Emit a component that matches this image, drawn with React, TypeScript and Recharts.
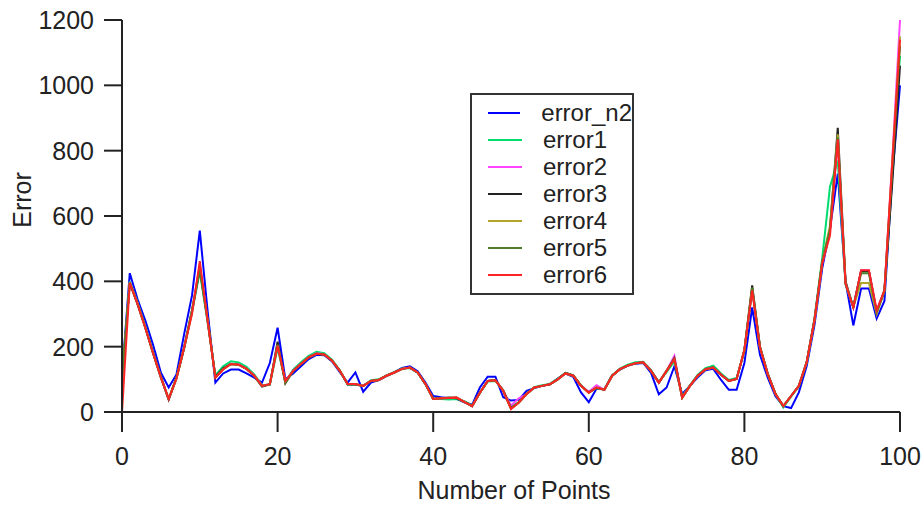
import { Label, Legend, Line, LineChart, XAxis, YAxis } from 'recharts';

const FONT = '"Liberation Sans", Arial, sans-serif';

// x positions: number of points 0..100
const xPoints = Array.from({ length: 101 }, (_, i) => i);

const xTicks = [0, 20, 40, 60, 80, 100];
const yTicks = [0, 200, 400, 600, 800, 1000, 1200];

// values, 10 per row (index 0..100)
const errorN2 = [
  110, 425, 345, 280, 205, 120, 75, 115, 240, 357,
  555, 310, 90, 118, 130, 130, 118, 105, 90, 150,
  258, 100, 118, 140, 162, 175, 174, 155, 122, 90,
  121, 62, 90, 98, 110, 122, 135, 140, 125, 90,
  49, 45, 42, 40, 30, 22, 75, 108, 108, 45,
  35, 37, 65, 73, 80, 85, 102, 118, 108, 60,
  30, 72, 70, 112, 130, 142, 148, 150, 120, 54,
  75, 140, 55, 80, 106, 128, 132, 98, 68, 68,
  150, 320, 175, 105, 48, 18, 12, 60, 140, 265,
  440, 560, 730, 400, 265, 378, 378, 286, 340, 720,
  1000,
];

const error1 = [
  100, 400, 335, 262, 183, 108, 38, 103, 195, 305,
  430, 275, 112, 140, 155, 152, 138, 115, 82, 84,
  195, 92, 130, 152, 172, 184, 180, 160, 128, 84,
  84, 80, 97, 100, 112, 122, 133, 135, 120, 84,
  42, 40, 38, 40, 33, 20, 58, 93, 95, 66,
  15, 30, 56, 76, 82, 86, 102, 120, 112, 82,
  60, 73, 70, 113, 133, 145, 152, 154, 128, 92,
  122, 155, 48, 82, 114, 134, 142, 118, 98, 104,
  185, 375, 200, 118, 55, 14, 47, 78, 150, 285,
  470, 690, 770, 390, 322, 430, 430, 305, 368, 730,
  1090,
];

const error2 = [
  100, 398, 332, 258, 180, 106, 38, 105, 198, 312,
  450, 282, 106, 132, 148, 146, 133, 112, 80, 86,
  208, 92, 127, 148, 168, 180, 177, 157, 126, 86,
  86, 80, 95, 98, 111, 121, 132, 136, 121, 86,
  40, 42, 43, 44, 31, 18, 59, 95, 97, 65,
  20, 42, 55, 75, 80, 85, 100, 118, 111, 80,
  62, 82, 68, 111, 131, 142, 149, 152, 126, 90,
  126, 172, 44, 80, 111, 131, 136, 114, 95, 101,
  190, 375, 198, 116, 55, 18, 49, 80, 152, 280,
  455, 555, 830, 393, 320, 434, 434, 311, 372, 770,
  1200,
];

const error3 = [
  100, 395, 330, 258, 180, 106, 38, 104, 198, 310,
  440, 285, 108, 134, 147, 145, 132, 110, 78, 84,
  215, 88, 126, 147, 167, 178, 176, 157, 126, 84,
  84, 80, 95, 98, 111, 121, 132, 136, 121, 86,
  40, 42, 44, 42, 31, 18, 59, 95, 98, 66,
  12, 29, 55, 75, 80, 85, 100, 120, 112, 80,
  60, 74, 68, 111, 131, 142, 149, 152, 126, 90,
  126, 165, 44, 80, 111, 131, 137, 114, 95, 101,
  190, 388, 200, 117, 55, 18, 49, 80, 152, 282,
  460, 560, 870, 400, 320, 432, 432, 305, 372, 700,
  1060,
];

const error4 = [
  100, 397, 332, 258, 180, 106, 40, 105, 198, 311,
  445, 282, 106, 131, 147, 145, 132, 111, 80, 85,
  205, 90, 126, 147, 167, 178, 176, 157, 126, 86,
  86, 80, 95, 98, 111, 121, 132, 136, 121, 86,
  40, 42, 43, 44, 31, 18, 59, 95, 97, 65,
  10, 29, 55, 75, 80, 85, 100, 118, 111, 80,
  59, 75, 68, 111, 131, 142, 149, 152, 126, 90,
  126, 162, 44, 80, 111, 131, 136, 114, 95, 101,
  190, 380, 200, 116, 55, 18, 49, 80, 152, 280,
  458, 570, 850, 395, 322, 395, 395, 300, 372, 760,
  1150,
];

const error5 = [
  100, 396, 331, 258, 180, 106, 40, 105, 198, 311,
  435, 280, 106, 131, 147, 145, 132, 111, 80, 85,
  205, 90, 126, 147, 167, 178, 176, 157, 126, 86,
  86, 80, 95, 98, 111, 121, 132, 136, 121, 86,
  40, 42, 43, 44, 31, 18, 59, 95, 97, 65,
  10, 29, 55, 75, 80, 85, 100, 118, 111, 80,
  59, 75, 68, 111, 131, 142, 149, 152, 126, 90,
  126, 162, 44, 80, 111, 131, 136, 114, 95, 101,
  190, 380, 198, 116, 55, 18, 49, 80, 152, 280,
  455, 560, 840, 393, 320, 425, 425, 305, 372, 740,
  1120,
];

const error6 = [
  0, 395, 330, 258, 180, 106, 40, 102, 198, 300,
  462, 280, 105, 130, 147, 145, 132, 111, 80, 85,
  203, 95, 126, 147, 167, 178, 176, 157, 126, 86,
  86, 80, 95, 98, 111, 121, 132, 136, 121, 86,
  40, 42, 43, 44, 31, 18, 59, 95, 97, 65,
  9, 29, 55, 75, 80, 85, 100, 118, 111, 80,
  59, 75, 68, 111, 131, 142, 149, 152, 126, 90,
  126, 162, 44, 80, 111, 131, 136, 114, 95, 101,
  190, 372, 198, 116, 55, 18, 49, 80, 152, 280,
  455, 540, 835, 393, 320, 434, 434, 311, 372, 760,
  1140,
];

const series = [
  { key: 'error_n2', values: errorN2, color: '#0000ff' },
  { key: 'error1', values: error1, color: '#00dd6e' },
  { key: 'error2', values: error2, color: '#ff44ff' },
  { key: 'error3', values: error3, color: '#222222' },
  { key: 'error4', values: error4, color: '#b3a52c' },
  { key: 'error5', values: error5, color: '#4d7c2b' },
  { key: 'error6', values: error6, color: '#ff2424' },
];

const data = xPoints.map((x, i) => {
  const row: Record<string, number> = { x };
  series.forEach(s => {
    row[s.key] = s.values[i];
  });
  return row;
});

const renderLegend = (props: any) => {
  const payload = props.payload || [];
  // keep the order of the series, not the sorted one
  const ordered = series
    .map(s => payload.find((p: any) => p.dataKey === s.key))
    .filter(Boolean);
  return (
    <div
      style={{
        width: 164,
        height: 202,
        boxSizing: 'border-box',
        border: '2px solid #333',
        background: '#fff',
        padding: '4px 0 0 16px',
        fontFamily: FONT,
      }}
    >
      {ordered.map((entry: any) => (
        <div
          key={entry.value}
          style={{ display: 'flex', alignItems: 'center', height: 27 }}
        >
          <span
            style={{
              display: 'inline-block',
              width: 34,
              height: 2,
              background: entry.color,
              marginRight: 21,
            }}
          />
          <span style={{ fontSize: 24, color: '#222', lineHeight: '27px' }}>
            {entry.value}
          </span>
        </div>
      ))}
    </div>
  );
};

const axisStyle = { stroke: '#222', strokeWidth: 2 };
const tickStyle = { fill: '#222', fontSize: 25, fontFamily: FONT };

export default function App() {
  return (
    <div
      style={{
        position: 'absolute',
        left: 0,
        top: 0,
        width: 924,
        height: 506,
        background: '#fff',
        fontFamily: FONT,
      }}
    >
      <LineChart
        width={924}
        height={506}
        data={data}
        margin={{ top: 20, right: 24, left: 0, bottom: 0 }}
      >
        <XAxis
          dataKey="x"
          type="number"
          domain={[0, 100]}
          ticks={xTicks}
          height={94}
          tickSize={20}
          tickMargin={15}
          axisLine={axisStyle}
          tickLine={axisStyle}
          tick={tickStyle}
        >
          <Label
            content={() => (
              <text
                x={514}
                y={499}
                textAnchor="middle"
                fill="#222"
                fontSize={25}
                fontFamily={FONT}
              >
                Number of Points
              </text>
            )}
          />
        </XAxis>
        <YAxis
          type="number"
          domain={[0, 1200]}
          ticks={yTicks}
          width={122}
          tickSize={18}
          tickMargin={10}
          axisLine={axisStyle}
          tickLine={axisStyle}
          tick={tickStyle}
        >
          <Label
            content={() => (
              <text
                transform="translate(31,200) rotate(-90)"
                textAnchor="middle"
                fill="#222"
                fontSize={25}
                fontFamily={FONT}
              >
                Error
              </text>
            )}
          />
        </YAxis>
        <Legend
          layout="vertical"
          align="center"
          verticalAlign="middle"
          content={renderLegend}
          wrapperStyle={{ left: 470, top: 93, width: 164, height: 202 }}
        />
        {series.map(s => (
          <Line
            key={s.key}
            type="linear"
            dataKey={s.key}
            name={s.key}
            stroke={s.color}
            strokeWidth={2}
            dot={false}
            activeDot={false}
            isAnimationActive={false}
          />
        ))}
      </LineChart>
    </div>
  );
}
